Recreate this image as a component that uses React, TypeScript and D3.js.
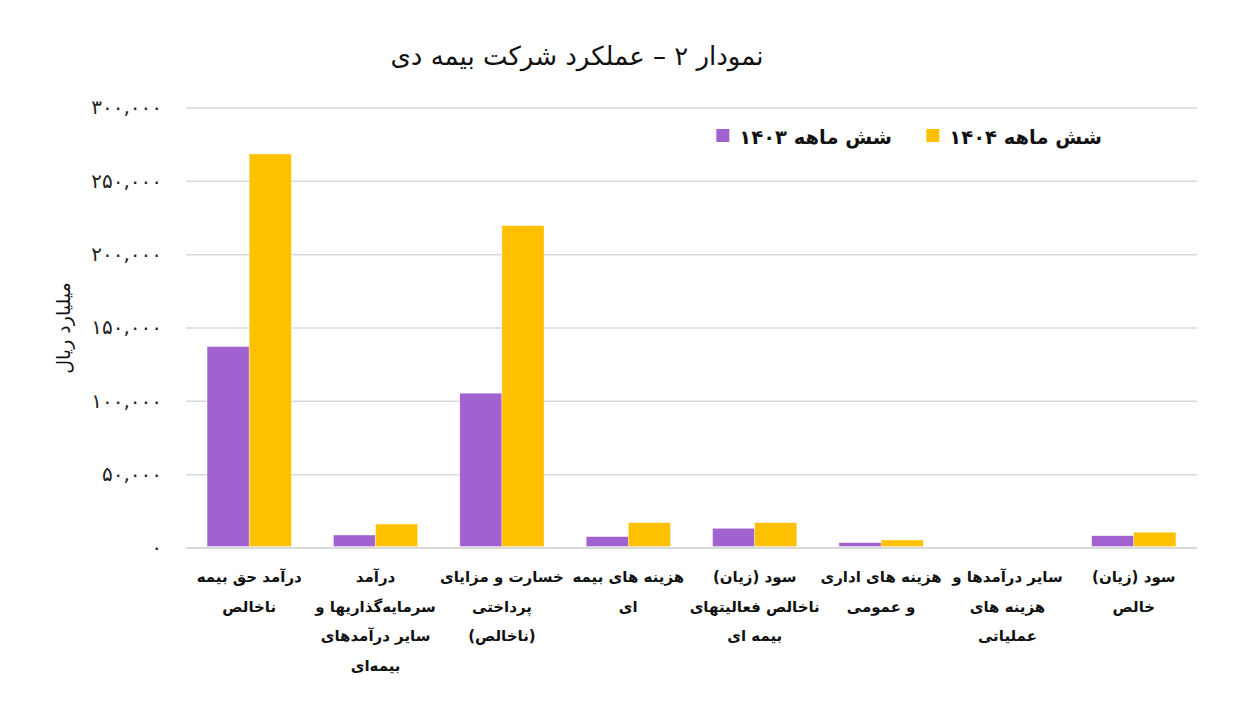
import React, { useRef, useEffect } from 'react';
import * as d3 from 'd3';

const categories: string[][] = [
    ['درآمد حق بیمه', 'ناخالص'],
    ['درآمد', 'سرمایه‌گذاریها و', 'سایر درآمدهای', 'بیمه‌ای'],
    ['خسارت و مزایای', 'پرداختی', '(ناخالص)'],
    ['هزینه های بیمه', 'ای'],
    ['سود (زیان)', 'ناخالص فعالیتهای', 'بیمه ای'],
    ['هزینه های اداری', 'و عمومی'],
    ['سایر درآمدها و', 'هزینه های', 'عملیاتی'],
    ['سود (زیان)', 'خالص'],
];

const series = ['شش ماهه ۱۴۰۳', 'شش ماهه ۱۴۰۴'];
const values1403 = [137000, 8500, 105200, 7400, 13100, 3300, 150, 8000];
const values1404 = [268300, 16000, 219400, 16900, 16900, 5100, 600, 10400];
const yTicks = [0, 50000, 100000, 150000, 200000, 250000, 300000];
const colors = ['#a162cf', '#ffc000'];

const title = 'نمودار ۲ – عملکرد شرکت بیمه دی';
const yTitle = 'میلیارد ریال';

const faDigits = '۰۱۲۳۴۵۶۷۸۹';
const toFa = (s: string) => s.replace(/[0-9]/g, (c) => faDigits[+c]);

const App: React.FC = () => {
    const svgRef = useRef<SVGSVGElement | null>(null);

    useEffect(() => {
        document.body.style.margin = '0';
        const width = 1235;
        const height = 719;
        const margin = { left: 186, right: 38, top: 107.5, bottom: 171.5 };
        const font = '"DejaVu Sans", sans-serif';

        const svg = d3.select(svgRef.current)
            .attr('width', width)
            .attr('height', height)
            .style('display', 'block')
            .style('background', '#fff');
        svg.selectAll('*').remove();

        const x0 = d3.scaleBand<number>()
            .domain(d3.range(categories.length))
            .range([margin.left, width - margin.right])
            .paddingInner(1 / 3)
            .paddingOuter(1 / 6);

        const x1 = d3.scaleBand<number>()
            .domain([0, 1])
            .range([0, x0.bandwidth()]);

        const y = d3.scaleLinear()
            .domain([0, 300000])
            .range([height - margin.bottom, margin.top]);

        // grid + tick labels
        const yAxis = d3.axisLeft(y)
            .tickValues(yTicks)
            .tickSize(-(width - margin.left - margin.right))
            .tickPadding(24)
            .tickFormat((d) => toFa(d3.format(',')(d as number)));

        const gy = svg.append('g')
            .attr('transform', `translate(${margin.left},0)`)
            .call(yAxis);
        gy.select('.domain').remove();
        gy.selectAll('.tick line')
            .attr('stroke', '#d9d9d9')
            .attr('stroke-width', (d) => (d === 0 ? 2 : 1.5));
        gy.selectAll('.tick text')
            .attr('font-family', font)
            .attr('font-size', 20)
            .attr('letter-spacing', 3.5)
            .attr('fill', '#222');

        // bars
        const data = categories.map((_, i) => [values1403[i], values1404[i]]);
        svg.append('g')
            .selectAll('g')
            .data(data)
            .enter().append('g')
            .attr('transform', (_, i) => `translate(${x0(i)},0)`)
            .selectAll('rect')
            .data((d) => d)
            .enter().append('rect')
            .attr('x', (_, j) => x1(j) as number)
            .attr('width', x1.bandwidth())
            .attr('y', (d) => y(d))
            .attr('height', (d) => y(0) - y(d) - 1)
            .attr('fill', (_, j) => colors[j])
            .attr('stroke', '#fff')
            .attr('stroke-opacity', 0.6)
            .attr('stroke-width', 0.6);

        // x labels
        const xl = svg.append('g');
        categories.forEach((lines, i) => {
            const cx = (x0(i) as number) + x0.bandwidth() / 2;
            lines.forEach((line, k) => {
                xl.append('text')
                    .attr('x', cx)
                    .attr('y', 582 + k * 29.5)
                    .attr('text-anchor', 'middle')
                    .attr('direction', 'rtl')
                    .attr('font-family', font)
                    .attr('font-size', 15)
                    .attr('font-weight', 'bold')
                    .attr('fill', '#111')
                    .text(line);
            });
        });

        // title
        svg.append('text')
            .attr('x', 577)
            .attr('y', 65)
            .attr('text-anchor', 'middle')
            .attr('direction', 'rtl')
            .attr('font-family', font)
            .attr('font-size', 26)
            .attr('fill', '#111')
            .text(title);

        // y title
        svg.append('text')
            .attr('transform', 'translate(70,328) rotate(-90)')
            .attr('text-anchor', 'middle')
            .attr('direction', 'rtl')
            .attr('font-family', font)
            .attr('font-size', 19)
            .attr('fill', '#111')
            .text(yTitle);

        // legend
        const legendX = [1102, 892];
        const legendOrder = [1, 0];
        legendOrder.forEach((s, k) => {
            const rx = legendX[k];
            const t = svg.append('text')
                .attr('x', rx)
                .attr('y', 144)
                .attr('text-anchor', 'start')
                .attr('direction', 'rtl')
                .attr('font-family', font)
                .attr('font-size', 19.5)
                .attr('font-weight', 'bold')
                .attr('fill', '#111')
                .text(series[s]);
            const w = (t.node() as SVGTextElement).getComputedTextLength();
            svg.append('rect')
                .attr('x', rx - w - 23)
                .attr('y', 129)
                .attr('width', 13)
                .attr('height', 13)
                .attr('fill', colors[s]);
        });
    }, []);

    return <svg ref={svgRef}></svg>;
};

export default App;
